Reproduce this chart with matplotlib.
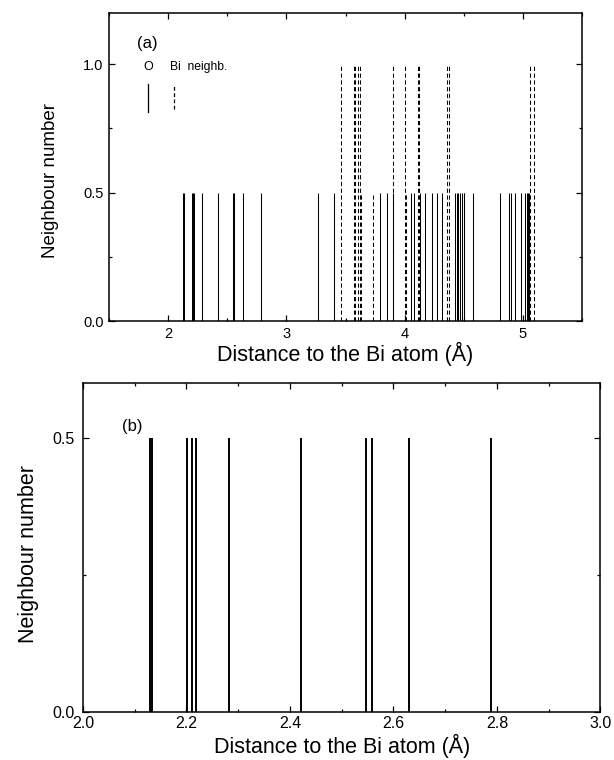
import numpy as np
import matplotlib
matplotlib.use('Agg')
import matplotlib.pyplot as plt
from matplotlib.ticker import MultipleLocator

plt.rcParams['font.family'] = ['Liberation Sans', 'DejaVu Sans']

# O neighbours of the Bi atom (distance in A, weight 0.5 each)
o_dist = [2.130, 2.133, 2.202, 2.210, 2.218, 2.283, 2.422, 2.547, 2.559, 2.630,
          2.789, 3.271, 3.403, 3.793, 3.850, 3.904, 4.053, 4.076, 4.128, 4.175,
          4.229, 4.274, 4.314, 4.426, 4.440, 4.454, 4.469, 4.486, 4.500, 4.505,
          4.576, 4.802, 4.878, 4.901, 4.937, 4.985, 5.014, 5.034, 5.045, 5.055]
o_weight = [0.5] * len(o_dist)

# Bi neighbours
bi_dist = [3.463, 3.568, 3.582, 3.605, 3.619, 3.632, 3.734, 3.904, 4.003, 4.012,
           4.110, 4.118, 4.356, 4.378, 5.062, 5.093]
bi_weight = [1.0, 1.0, 1.0, 1.0, 1.0, 0.5, 0.5, 1.0, 1.0, 0.5,
             1.0, 1.0, 1.0, 1.0, 1.0, 1.0]

# first O shell only, zoomed
o_first = [d for d in o_dist if d < 3.0]
o_first_w = [0.5] * len(o_first)

fig = plt.figure(figsize=(6.14, 7.6), dpi=100)
ax1 = fig.add_axes([0.1775, 0.5776, 0.7705, 0.4054])
ax2 = fig.add_axes([0.135, 0.0636, 0.843, 0.4328])


def style_axes(ax, tick_size):
    for s in ax.spines.values():
        s.set_linewidth(1.1)
    ax.tick_params(which='both', direction='in', top=True, right=True,
                   width=0.9, labelsize=tick_size, pad=4)
    ax.tick_params(which='major', length=4.5)
    ax.tick_params(which='minor', length=2.5)


# (a) full neighbour list
ax1.vlines(o_dist, 0, o_weight, colors='black', linewidth=0.75)
ax1.vlines(bi_dist, 0, bi_weight, colors='black', linewidth=0.75,
           linestyles=(0, (4, 2.5)))
ax1.set_xlim(1.5, 5.5)
ax1.set_ylim(0, 1.2)
ax1.xaxis.set_major_locator(MultipleLocator(1))
ax1.xaxis.set_minor_locator(MultipleLocator(0.5))
ax1.yaxis.set_major_locator(MultipleLocator(0.5))
ax1.yaxis.set_minor_locator(MultipleLocator(0.25))
ax1.set_yticks([0, 0.5, 1.0], ['0.0', '0.5', '1.0'])
style_axes(ax1, 10.5)
ax1.set_xlabel('Distance to the Bi atom (Å)', fontsize=15.5, labelpad=1)
ax1.set_ylabel('Neighbour number', fontsize=13.5)
ax1.yaxis.set_label_coords(-0.106, 0.455)
ax1.text(1.74, 1.08, '(a)', fontsize=12, va='center')

# key
ax1.text(1.83, 0.99, 'O', fontsize=9, ha='center', va='center')
ax1.text(2.02, 0.99, 'Bi  neighb.', fontsize=8.7, ha='left', va='center')
ax1.plot([1.83, 1.83], [0.815, 0.925], color='black', linewidth=0.9)
ax1.plot([2.053, 2.053], [0.825, 0.925], color='black', linewidth=0.9,
         linestyle=(0, (3, 2)))

# (b) first shell
ax2.vlines(o_first, 0, o_first_w, colors='black', linewidth=1.4)
ax2.set_xlim(2.0, 3.0)
ax2.set_ylim(0, 0.6)
ax2.xaxis.set_major_locator(MultipleLocator(0.2))
ax2.xaxis.set_minor_locator(MultipleLocator(0.1))
ax2.yaxis.set_minor_locator(MultipleLocator(0.25))
ax2.set_yticks([0, 0.5], ['0.0', '0.5'])
ax2.set_xticks(np.arange(2.0, 3.01, 0.2), ['2.0', '2.2', '2.4', '2.6', '2.8', '3.0'])
style_axes(ax2, 11.5)
ax2.tick_params(axis='x', pad=3)
ax2.tick_params(axis='y', pad=6)
ax2.set_xlabel('Distance to the Bi atom (Å)', fontsize=15.5, labelpad=2)
ax2.set_ylabel('Neighbour number', fontsize=15.5)
ax2.yaxis.set_label_coords(-0.084, 0.479)
ax2.text(2.075, 0.52, '(b)', fontsize=12, va='center')

fig.savefig('out.png', dpi=100)
